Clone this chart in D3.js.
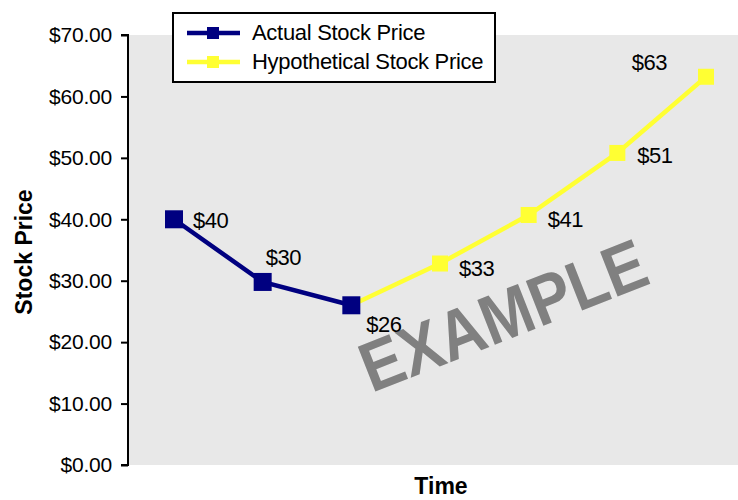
<!DOCTYPE html>
<html>
<head>
<meta charset="utf-8">
<script src="https://cdn.jsdelivr.net/npm/d3@7"></script>
<style>
  html, body { margin: 0; padding: 0; background: #fff; }
  svg { display: block; font-family: "Liberation Sans", Arial, sans-serif; }
</style>
</head>
<body>
<svg id="chart" width="738" height="500"></svg>
<script>
// ---- data ----
const periods = [1, 2, 3, 4, 5, 6, 7];
const actualPeriods = [1, 2, 3];
const actualPrices = [40, 29.8, 26];
const hypoPeriods = [3, 4, 5, 6, 7];
const hypoPrices = [26, 32.8, 40.7, 50.8, 63.2];
const yTicks = [0, 10, 20, 30, 40, 50, 60, 70];
const seriesNames = ["Actual Stock Price", "Hypothetical Stock Price"];
const yTitle = "Stock Price";
const xTitle = "Time";
const watermark = "EXAMPLE";

// ---- label placement (style) ----
const actualLabelOffsets = [[19, 9, "start"], [3, -17, "start"], [15, 27, "start"]];
const hypoLabelOffsets = [null, [19, 12, "start"], [19, 12, "start"], [20, 10, "start"], [-39, -7, "end"]];

const navy = "#000080";
const yellow = "#ffff33";
const ink = "#000";

const svg = d3.select("#chart");
const plot = { left: 128, top: 35, right: 738, bottom: 465 };

const x = d3.scalePoint().domain(periods).range([174, 706]);
const y = d3.scaleLinear().domain([0, 70]).range([plot.bottom, plot.top]);

// plot background
svg.append("rect")
  .attr("x", plot.left).attr("y", plot.top)
  .attr("width", plot.right - plot.left).attr("height", plot.bottom - plot.top)
  .attr("fill", "#e8e8e8");

// watermark
svg.append("text")
  .attr("transform", "translate(512,338) rotate(-21.4)")
  .attr("text-anchor", "middle")
  .attr("font-size", 70)
  .attr("font-weight", "bold")
  .attr("fill", "#808080")
  .attr("textLength", 302)
  .attr("lengthAdjust", "spacingAndGlyphs")
  .text(watermark);

// y axis
const yAxis = d3.axisLeft(y)
  .tickValues(yTicks)
  .tickSize(7)
  .tickPadding(9)
  .tickFormat(d => "$" + d3.format(".2f")(d));
const gy = svg.append("g")
  .attr("transform", `translate(${plot.left},0)`)
  .call(yAxis);
gy.select(".domain").attr("stroke", "#000").attr("stroke-width", 2)
  .attr("d", `M-7,${plot.top}H0V${plot.bottom}H-7`);
gy.selectAll(".tick line").attr("stroke", "#000").attr("stroke-width", 2);
gy.selectAll(".tick text")
  .attr("font-size", 21)
  .attr("letter-spacing", "-0.2px")
  .attr("fill", ink)
  .attr("font-family", "Liberation Sans, Arial, sans-serif");

// axis titles
svg.append("text")
  .attr("transform", `translate(32,252) rotate(-90)`)
  .attr("text-anchor", "middle")
  .attr("font-size", 23)
  .attr("font-weight", "bold")
  .attr("fill", ink)
  .text(yTitle);

svg.append("text")
  .attr("x", 441).attr("y", 494)
  .attr("text-anchor", "middle")
  .attr("font-size", 23)
  .attr("font-weight", "bold")
  .attr("fill", ink)
  .text(xTitle);

// series
const line = d3.line().x(d => x(d[0])).y(d => y(d[1]));
const hypoData = hypoPeriods.map((p, i) => [p, hypoPrices[i]]);
const actualData = actualPeriods.map((p, i) => [p, actualPrices[i]]);

svg.append("path").datum(hypoData)
  .attr("d", line).attr("fill", "none")
  .attr("stroke", yellow).attr("stroke-width", 4.5);
svg.selectAll(".hm").data(hypoData).enter().append("rect")
  .attr("x", d => x(d[0]) - 8).attr("y", d => y(d[1]) - 8)
  .attr("width", 16).attr("height", 16)
  .attr("fill", yellow);

svg.append("path").datum(actualData)
  .attr("d", line).attr("fill", "none")
  .attr("stroke", navy).attr("stroke-width", 4.5);
svg.selectAll(".am").data(actualData).enter().append("rect")
  .attr("x", d => x(d[0]) - 9).attr("y", d => y(d[1]) - 9)
  .attr("width", 18).attr("height", 18)
  .attr("fill", navy);

// data labels
function addLabels(data, offsets) {
  data.forEach((d, i) => {
    const o = offsets[i];
    if (!o) return;
    svg.append("text")
      .attr("x", x(d[0]) + o[0]).attr("y", y(d[1]) + o[1])
      .attr("text-anchor", o[2])
      .attr("font-size", 22)
      .attr("letter-spacing", "-0.5px")
      .attr("fill", ink)
      .text("$" + Math.round(d[1]));
  });
}
addLabels(actualData, actualLabelOffsets);
addLabels(hypoData, hypoLabelOffsets);

// legend
const lg = svg.append("g");
lg.append("rect")
  .attr("x", 173).attr("y", 13).attr("width", 322).attr("height", 69)
  .attr("fill", "#fff").attr("stroke", "#000").attr("stroke-width", 2);
const legendColors = [navy, yellow];
seriesNames.forEach((name, i) => {
  const cy = 33 + i * 29;
  lg.append("line").attr("x1", 187).attr("x2", 240).attr("y1", cy).attr("y2", cy)
    .attr("stroke", legendColors[i]).attr("stroke-width", 4.5);
  lg.append("rect").attr("x", 207).attr("y", cy - 6).attr("width", 12).attr("height", 12)
    .attr("fill", legendColors[i]);
  lg.append("text").attr("x", 252).attr("y", cy + 7)
    .attr("font-size", 22)
    .attr("letter-spacing", "-0.3px")
    .attr("fill", ink)
    .text(name);
});
</script>
</body>
</html>
